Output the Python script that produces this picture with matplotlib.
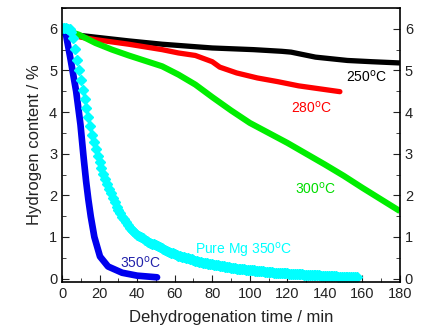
import numpy as np
import matplotlib
matplotlib.use("Agg")
import matplotlib.pyplot as plt
from matplotlib.ticker import MultipleLocator

plt.rcParams['font.family'] = ['Liberation Sans', 'DejaVu Sans']

# dehydrogenation curves: time (min) / hydrogen content (wt%)
t_250 = [3, 10, 17.75, 35.5, 53.3, 80, 102, 117, 122, 135, 152, 165, 180]
h_250 = [5.90, 5.84, 5.80, 5.71, 5.63, 5.54, 5.50, 5.46, 5.44, 5.32, 5.24, 5.21, 5.18]

t_280 = [3, 10, 17.75, 35.5, 53.3, 62, 71, 80, 84, 93, 104, 115, 126, 137, 148]
h_280 = [5.90, 5.80, 5.74, 5.63, 5.50, 5.42, 5.36, 5.21, 5.08, 4.94, 4.82, 4.73, 4.63, 4.56, 4.49]

t_300 = [5, 8.9, 17.75, 26.6, 35.5, 44.4, 53.3, 62, 71, 80, 90, 100, 110, 120, 130,
         140, 150, 160, 170, 180]
h_300 = [5.92, 5.86, 5.66, 5.50, 5.36, 5.23, 5.10, 4.90, 4.66, 4.36, 4.04, 3.74,
         3.50, 3.26, 3.00, 2.74, 2.47, 2.18, 1.90, 1.62]

t_350 = [0, 1, 2.1, 4.4, 7.5, 9.8, 11.5, 12.8, 14.0, 15.3, 17.2, 20.2, 24.5, 32, 40, 50.6]
h_350 = [5.95, 5.92, 5.86, 5.30, 4.50, 3.70, 2.90, 2.34, 1.90, 1.49, 1.00, 0.53, 0.29,
         0.14, 0.07, 0.03]

t_mg = [0, 2, 4, 5, 6.2, 8, 9.8, 11, 12.1, 13.3, 16, 19.2, 22.7, 25.5, 29, 32, 36,
        40, 46, 53, 60, 75, 93, 111, 128, 146, 157.6]
h_mg = [6.02, 6.01, 5.99, 5.92, 5.74, 5.26, 4.82, 4.54, 4.30, 4.02, 3.46, 2.90, 2.42,
        2.10, 1.73, 1.49, 1.22, 1.05, 0.88, 0.74, 0.58, 0.38, 0.24, 0.15, 0.10, 0.05, 0.03]


def dense(t, h, step):
    # resample a curve at a fixed logging interval
    tt = np.arange(t[0], t[-1] + 1e-9, step)
    return tt, np.interp(tt, t, h)


fig = plt.figure(figsize=(4.31, 3.34), dpi=100)
ax = fig.add_axes([0.144, 0.156, 0.784, 0.82])

ax.plot(t_250, h_250, '-', color='black', lw=3.8, solid_capstyle='butt')
ax.plot(t_280, h_280, '-', color='#ff0000', lw=3.8, solid_capstyle='round')
ax.plot(t_300, h_300, '-', color='#00ee00', lw=4.4, solid_capstyle='butt')
ax.plot(t_350, h_350, '-', color='#0000ee', lw=4.8, solid_capstyle='round')

# pure Mg: diamond markers, one per minute
tm, hm = dense(t_mg, h_mg, step=1.0)
ax.plot(tm, hm, 'D', color='cyan', ms=4.8, mec='cyan')

ax.text(162, 4.85, '250$^{\\rm o}$C', color='black', fontsize=10, ha='center', va='center')
ax.text(133, 4.10, '280$^{\\rm o}$C', color='#ff0000', fontsize=10, ha='center', va='center')
ax.text(135, 2.16, '300$^{\\rm o}$C', color='#00dd00', fontsize=10, ha='center', va='center')
ax.text(96.5, 0.67, 'Pure Mg 350$^{\\rm o}$C', color='cyan', fontsize=10, ha='center', va='center')
ax.text(42, 0.38, '350$^{\\rm o}$C', color='#2222aa', fontsize=10, ha='center', va='center')

ax.set_xlim(0, 180)
ax.set_ylim(-0.08, 6.5)
ax.xaxis.set_major_locator(MultipleLocator(20))
ax.xaxis.set_minor_locator(MultipleLocator(10))
ax.yaxis.set_major_locator(MultipleLocator(1))
ax.yaxis.set_minor_locator(MultipleLocator(0.5))
ax.tick_params(which='both', direction='in', right=True, top=False,
               labelright=True, labelsize=10.5, colors='#222222')
ax.tick_params(which='major', length=5)
ax.tick_params(which='minor', length=3)
for s in ax.spines.values():
    s.set_linewidth(1.2)

ax.set_xlabel('Dehydrogenation time / min', fontsize=12, color='#222222', labelpad=7)
ax.set_ylabel('Hydrogen content / %', fontsize=12, color='#222222', labelpad=5)

fig.savefig('out.png', dpi=100)
